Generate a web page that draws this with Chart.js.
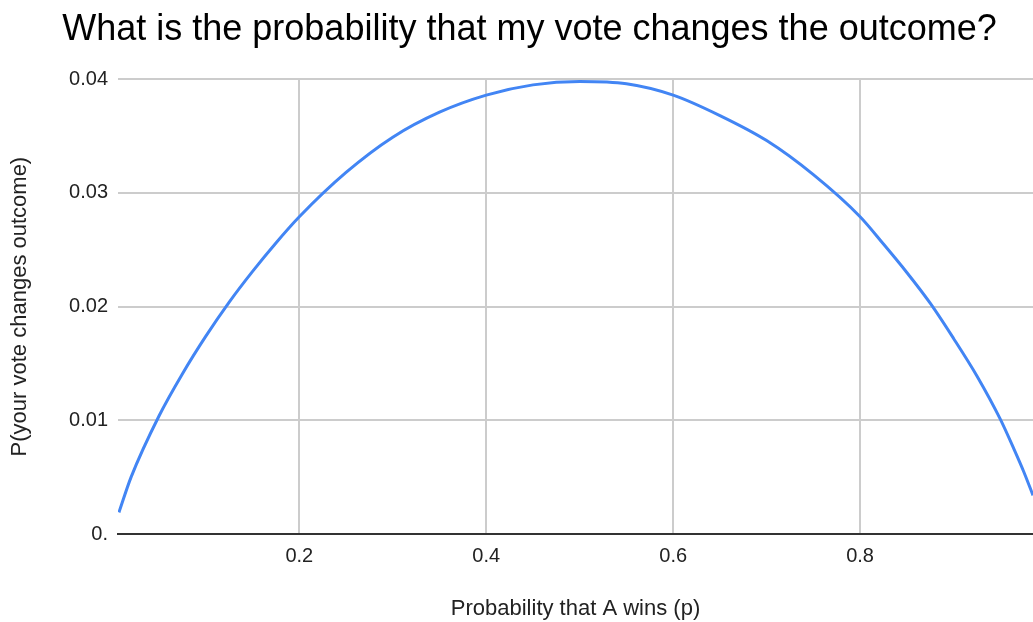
<!DOCTYPE html>
<html>
<head>
<meta charset="utf-8">
<script src="https://cdn.jsdelivr.net/npm/chart.js@4.4.1/dist/chart.umd.min.js"></script>
<style>
  body { margin: 0; background: #fff; }
  #wrap { width: 1033px; height: 622px; }
</style>
</head>
<body>
<div id="wrap"><canvas id="voteChart" width="1033" height="622"></canvas></div>
<script>
// p values (x) and P(your vote changes outcome) (y)
const pValues = [0.007, 0.02, 0.05, 0.075, 0.1, 0.125, 0.15, 0.175, 0.2, 0.25, 0.3, 0.35,
                 0.4, 0.45, 0.5, 0.55, 0.6, 0.65, 0.7, 0.75, 0.8, 0.825, 0.85, 0.875,
                 0.9, 0.925, 0.95, 0.965, 0.975, 0.985];
const probChange = [0.0019, 0.0050, 0.0104, 0.0141, 0.0174, 0.0204, 0.0231, 0.0256, 0.0279,
                    0.0318, 0.0349, 0.0371, 0.0386, 0.0395, 0.0398, 0.0396, 0.0386, 0.0368,
                    0.0346, 0.0316, 0.0279, 0.0255, 0.0230, 0.0203, 0.0172, 0.0139, 0.0101,
                    0.0074, 0.0055, 0.0034];
const xTicks = [0.2, 0.4, 0.6, 0.8];
const yTicks = [0, 0.01, 0.02, 0.03, 0.04];
const yTickLabels = ['0.', '0.01', '0.02', '0.03', '0.04'];

const FONT = "'Liberation Sans', Arial, sans-serif";

const points = pValues.map((p, i) => ({ x: p, y: probChange[i] }));

// the reference title sits a little right of the canvas centre
const titleShift = {
    id: 'titleShift',
    afterLayout(chart) {
        const t = chart.titleBlock;
        if (t) { t.left += 13; t.right += 13; }
    }
};

const ctx = document.getElementById('voteChart').getContext('2d');
new Chart(ctx, {
    type: 'line',
    data: {
        datasets: [{
            data: points,
            borderColor: '#4285f4',
            borderWidth: 3,
            pointRadius: 0,
            cubicInterpolationMode: 'monotone',
            fill: false
        }]
    },
    options: {
        responsive: false,
        animation: false,
        layout: { padding: 0 },
        plugins: {
            legend: { display: false },
            tooltip: { enabled: false },
            title: {
                display: true,
                text: 'What is the probability that my vote changes the outcome?',
                color: '#000',
                font: { family: FONT, size: 36, weight: 'normal' },
                padding: { top: 8, bottom: 28 }
            }
        },
        scales: {
            x: {
                type: 'linear',
                min: 0.006,
                max: 0.985,
                afterBuildTicks: (s) => { s.ticks = xTicks.map(v => ({ value: v })); },
                afterFit: (s) => { s.height = 88; },
                ticks: {
                    color: '#222',
                    font: { family: FONT, size: 20 },
                    padding: 10,
                    callback: (v) => String(v)
                },
                grid: { color: '#cccccc', lineWidth: 2, drawTicks: false },
                border: { display: true, color: '#333333', width: 2 },
                title: {
                    display: true,
                    text: 'Probability that A wins (p)',
                    color: '#222',
                    font: { family: FONT, size: 22 },
                    padding: { top: 24, bottom: 0 }
                }
            },
            y: {
                min: 0,
                max: 0.04,
                afterBuildTicks: (s) => { s.ticks = yTicks.map(v => ({ value: v })); },
                afterFit: (s) => { s.width = 118; },
                ticks: {
                    color: '#222',
                    font: { family: FONT, size: 20 },
                    padding: 10,
                    callback: (v) => yTickLabels[yTicks.indexOf(v)]
                },
                grid: { color: '#cccccc', lineWidth: 2, drawTicks: false },
                border: { display: false },
                title: {
                    display: true,
                    text: 'P(your vote changes outcome)',
                    color: '#222',
                    font: { family: FONT, size: 22 },
                    padding: { top: 7, bottom: 0 }
                }
            }
        }
    },
    plugins: [titleShift]
});
</script>
</body>
</html>
